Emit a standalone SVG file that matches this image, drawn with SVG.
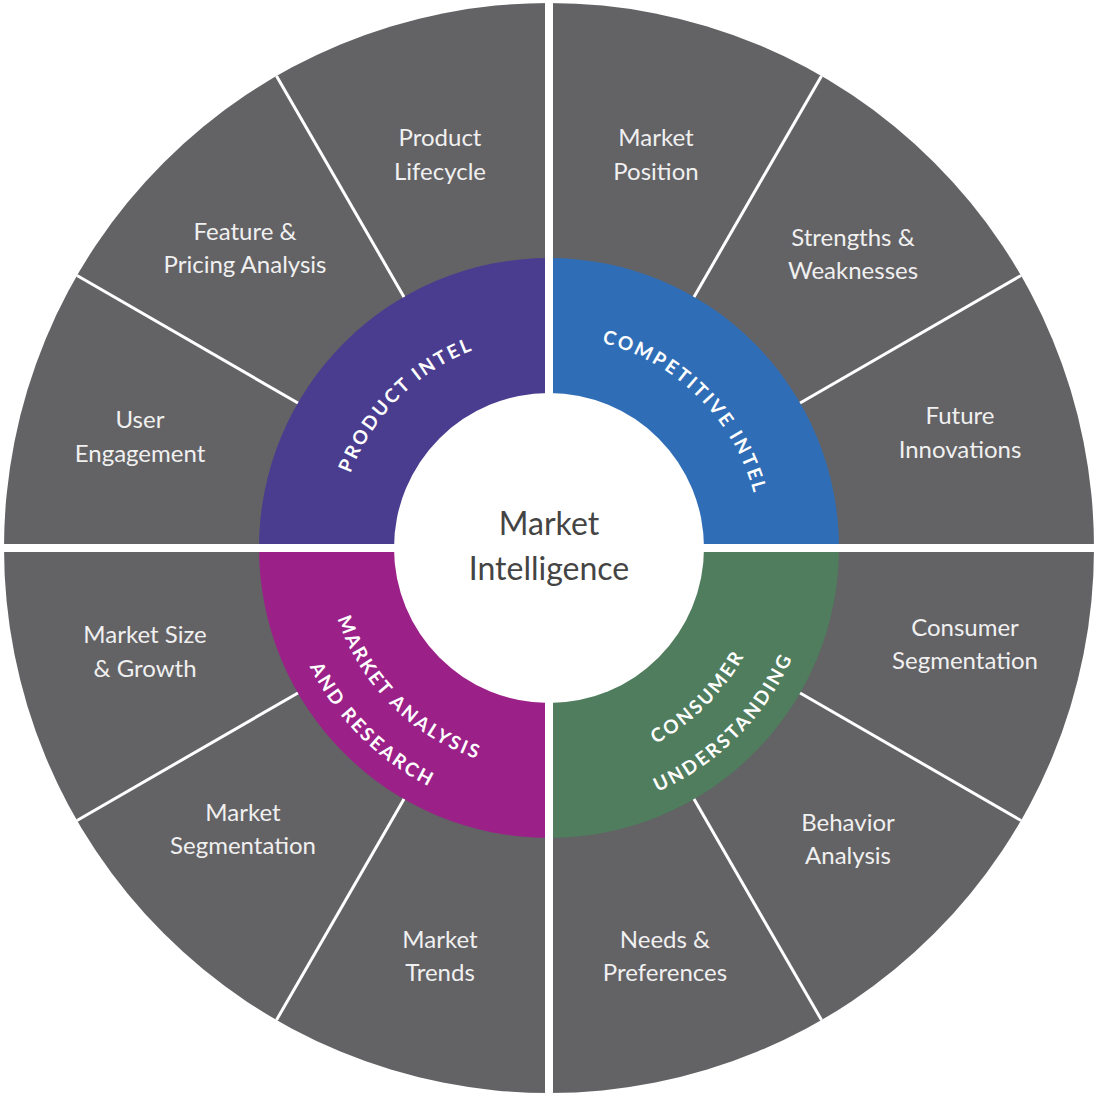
<svg xmlns="http://www.w3.org/2000/svg" width="1100" height="1100" viewBox="0 0 1100 1100">
<style>
.lbl{font-family:Lato,"Liberation Sans",sans-serif;font-size:24px;fill:#f0f0f0;text-anchor:middle}
.arc{font-family:Lato,"Liberation Sans",sans-serif;font-size:19px;font-weight:bold;fill:#fff;letter-spacing:2.5px}
.sep{stroke:#fff;stroke-width:3}
.cross{stroke:#fff;stroke-width:8}
</style>
<defs>
<path id="pTL" d="M337,548 A212,212 0 0 1 549,336"/>
<path id="pTR" d="M549,336 A212,212 0 0 1 761,548"/>
<path id="pBL1" d="M326,548 A223,223 0 0 0 549,771"/>
<path id="pBL2" d="M282,548 A267,267 0 0 0 549,815"/>
<path id="pBR1" d="M549,771 A223,223 0 0 0 772,548"/>
<path id="pBR2" d="M549,815 A267,267 0 0 0 816,548"/>
</defs>
<rect width="1100" height="1100" fill="#fff"/>
<g id="wheel">
<circle cx="549" cy="548" r="545" fill="#636265"/>
<path d="M549,548 L259,548 A290,290 0 0 1 549,258 Z" fill="#4a3d8f"/>
<path d="M549,548 L549,258 A290,290 0 0 1 839,548 Z" fill="#2f6db6"/>
<path d="M549,548 L259,548 A290,290 0 0 0 549,838 Z" fill="#9b2189"/>
<path d="M549,548 L549,838 A290,290 0 0 0 839,548 Z" fill="#4f7d5d"/>
</g>
<g id="connectors">
<line class="cross" x1="0" y1="548" x2="1100" y2="548"/>
<line class="cross" x1="549" y1="0" x2="549" y2="1100"/>
<line class="sep" x1="800.1" y1="693" x2="1021" y2="820.5"/>
<line class="sep" x1="694" y1="799.1" x2="821.5" y2="1020"/>
<line class="sep" x1="297.9" y1="693" x2="77" y2="820.5"/>
<line class="sep" x1="404" y1="799.1" x2="276.5" y2="1020"/>
<line class="sep" x1="800.1" y1="403" x2="1021" y2="275.5"/>
<line class="sep" x1="694" y1="296.9" x2="821.5" y2="76"/>
<line class="sep" x1="297.9" y1="403" x2="77" y2="275.5"/>
<line class="sep" x1="404" y1="296.9" x2="276.5" y2="76"/>
</g>
<g id="center">
<circle cx="549" cy="548" r="155" fill="#fff"/>
<text x="549" y="535" font-family="Lato,'Liberation Sans',sans-serif" font-size="32" fill="#444" text-anchor="middle">Market</text>
<text x="549" y="580" font-family="Lato,'Liberation Sans',sans-serif" font-size="32" fill="#444" text-anchor="middle">Intelligence</text>
</g>
<g id="inner-labels">
<text class="arc" text-anchor="middle"><textPath href="#pTL" startOffset="50%">PRODUCT INTEL</textPath></text>
<text class="arc" text-anchor="middle"><textPath href="#pTR" startOffset="50%">COMPETITIVE INTEL</textPath></text>
<text class="arc" text-anchor="middle"><textPath href="#pBL1" startOffset="50%">MARKET ANALYSIS</textPath></text>
<text class="arc" text-anchor="middle"><textPath href="#pBL2" startOffset="50%">AND RESEARCH</textPath></text>
<text class="arc" text-anchor="middle"><textPath href="#pBR1" startOffset="50%">CONSUMER</textPath></text>
<text class="arc" text-anchor="middle"><textPath href="#pBR2" startOffset="50%">UNDERSTANDING</textPath></text>
</g>
<g id="outer-labels">
<g id="n1"><text class="lbl" x="440" y="146">Product</text><text class="lbl" x="440" y="180">Lifecycle</text></g>
<g id="n2"><text class="lbl" x="245" y="240">Feature &amp;</text><text class="lbl" x="245" y="273">Pricing Analysis</text></g>
<g id="n3"><text class="lbl" x="140" y="428">User</text><text class="lbl" x="140" y="462">Engagement</text></g>
<g id="n4"><text class="lbl" x="656" y="146">Market</text><text class="lbl" x="656" y="180">Position</text></g>
<g id="n5"><text class="lbl" x="853" y="246">Strengths &amp;</text><text class="lbl" x="853" y="279">Weaknesses</text></g>
<g id="n6"><text class="lbl" x="960" y="424">Future</text><text class="lbl" x="960" y="458">Innovations</text></g>
<g id="n7"><text class="lbl" x="145" y="643">Market Size</text><text class="lbl" x="145" y="677">&amp; Growth</text></g>
<g id="n8"><text class="lbl" x="243" y="821">Market</text><text class="lbl" x="243" y="854">Segmentation</text></g>
<g id="n9"><text class="lbl" x="440" y="948">Market</text><text class="lbl" x="440" y="981">Trends</text></g>
<g id="n10"><text class="lbl" x="965" y="636">Consumer</text><text class="lbl" x="965" y="669">Segmentation</text></g>
<g id="n11"><text class="lbl" x="848" y="831">Behavior</text><text class="lbl" x="848" y="864">Analysis</text></g>
<g id="n12"><text class="lbl" x="665" y="948">Needs &amp;</text><text class="lbl" x="665" y="981">Preferences</text></g>
</g>
</svg>
